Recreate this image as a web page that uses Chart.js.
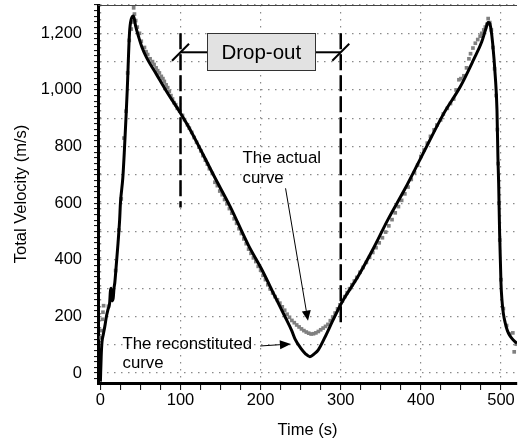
<!DOCTYPE html>
<html>
<head>
<meta charset="utf-8">
<script src="https://cdn.jsdelivr.net/npm/chart.js@4/dist/chart.umd.min.js"></script>
<style>
html,body{margin:0;padding:0;background:#fff;}
#wrap{width:521px;height:443px;}
</style>
</head>
<body>
<div id="wrap"><canvas id="c" width="521" height="443"></canvas></div>
<script>
// ---------- DATA ----------
// Reconstituted curve (black line): time (s) and velocity (m/s)
const reconT = [0,1,2,3.5,5.5,7.5,9.5,11.5,12.5,13.5,14.5,16,17,18,20,22,24,25,28,30,
  32,33.5,36.3,38.5,41.4,44,48,52,57.5,70,83,100,110,122,142,162,185,201.6,218,230.6,
  238.8,243,250,256,261.5,267,272,280,290,300.8,321.5,342,358.7,380,400,429,449.5,466,476,481,
  483.8,486,487.5,489.6,492.9,495,496.2,497.1,498.3,500,501.2,503,505.3,508,511.5,516,520];
const reconV = [-30,60,110,135,165,200,225,247,290,300,255,265,300,320,388,459,541,600,690,790,
  906,1000,1200,1250,1261,1225,1185,1150,1115,1055,993,918,870,806,695,588,450,365,270,198,
  150,120,88,68,58,68,82,125,185,247,341,447,541,650,760,919,1013,1108,1170,1215,
  1238,1235,1215,1165,1047,930,760,671,495,318,259,210,177,150,130,115,105];

// Actual curve (grey measured points): time (s) and velocity (m/s)
const actualT = [1,1.8,2.5,3.2,4,10,19,23,26,29.4,32,34,36,38.5,40,41.5,42.5,
  44,46,48.8,51,55,57,59,62,65,67,69.5,71.5,73.6,76,78,79.8,82,84,86,88,90,92,94,96,99,
  102.5,105,108.7,111,114,117,120,123,125.3,128,131,133.5,136,139.7,143,146,149,152,155,158,161,164,167,170,
  173,176,179,182,185,188,191,194,197,200,203,206,209,212,215,218,221,224,227,230,233,236,239,242,245,
  248,251,254,257,260,263,266,269,272,275,278,281,284,287,290,293,296,299,302,305,308,311,314,317,320,
  324,328,332,336,340,344,348,352,356,360,364,368,372,376,380,384,388,392,396,400,404,408,412,416.5,420,
  424.7,428,433,437,441,444,447.5,450,453.7,457,460,462,465,468,471,474,476,478.5,480.5,482.6,484,486,488,
  490,492,494,495.5,496.5,497.5,498.5,500,503,507,511,514.8,516.5,519];
const actualV = [125,150,190,215,238,236,362,505,615,830,925,1060,1175,1215,1240,1290,1268,
  1245,1222,1200,1172,1150,1135,1125,1110,1100,1090,1078,1068,1060,1048,1040,1030,1018,1008,995,980,968,955,948,935,925,
  910,895,877,865,850,832,815,798,785,768,752,738,722,705,674,662,643,630,613,598,581,565,545,529,
  510,493,474,457,438,423,407,394,377,363,345,330,312,297,283,270,259,247,234,222,208,197,186,178,170,
  163,156,150,145,141,138,139,142,147,153,159,165,172,185,198,212,227,241,255,270,284,298,312,325,338,
  356,373,391,409,426,443,460,478,498,520,542,566,588,610,633,657,684,708,734,765,788,812,836,859,876,
  894,915,935,952,968,1000,1036,1040,1050,1078,1110,1128,1148,1165,1178,1190,1200,1212,1222,1232,1252,1238,1212,
  1150,1075,980,860,740,600,470,330,228,168,138,142,75,102];

// Axis ranges and tick spacing
const xRange = [-3, 520];
const yRange = [-35, 1300];
const xMinorStep = 25, xLabelStep = 100;
const yMinorStep = 20, yGridStep = 100, yLabelStep = 200;

// Annotation anchors (data coordinates)
const dropOutTimes = [100, 300];
const dropOutTop = 1200;
const dropOutBottoms = [585, 170];
const bracketV = 1133;
const dropBox = {t1: 133.4, t2: 268.2, v1: 1068, v2: 1200, text: 'Drop-out'};
const actualNote = {t: 177.5, v: 741, lines: ['The actual', 'curve'], from: [231.1, 652.6], to: [259.1, 185]};
const reconNote = {t: 27.6, v: 84, lines: ['The reconstituted', 'curve'], from: [199.4, 95.7], to: [237.8, 102.8]};

// ---------- CHART ----------
const FONT = "'Liberation Sans', Arial, Helvetica, sans-serif";
const toPts = (ts, vs) => ts.map((t, i) => ({x: t, y: vs[i]}));

function arrow(ctx, x1, y1, x2, y2, len, half) {
  const a = Math.atan2(y2 - y1, x2 - x1);
  const bx = x2 - len * Math.cos(a), by = y2 - len * Math.sin(a);
  ctx.beginPath(); ctx.moveTo(x1, y1); ctx.lineTo(bx, by); ctx.stroke();
  ctx.beginPath();
  ctx.moveTo(x2, y2);
  ctx.lineTo(bx + half * Math.sin(a), by - half * Math.cos(a));
  ctx.lineTo(bx - half * Math.sin(a), by + half * Math.cos(a));
  ctx.closePath(); ctx.fill();
}

const frame = {
  id: 'frame',
  beforeDatasetsDraw(chart) {
    const {ctx, chartArea: ca} = chart;
    ctx.save();
    ctx.strokeStyle = '#444'; ctx.lineWidth = 1.2;
    ctx.beginPath(); ctx.moveTo(ca.left, ca.top + 0.5); ctx.lineTo(ca.right, ca.top + 0.5); ctx.stroke();
    ctx.restore();
  }
};

const annot = {
  id: 'annot',
  afterDatasetsDraw(chart) {
    const {ctx, scales: {x, y}} = chart;
    const X = v => x.getPixelForValue(v), Y = v => y.getPixelForValue(v);
    ctx.save();
    // dashed drop-out boundaries
    ctx.strokeStyle = '#000'; ctx.lineWidth = 2.5; ctx.setLineDash([16, 5]);
    dropOutTimes.forEach((t, i) => {
      ctx.beginPath(); ctx.moveTo(X(t), Y(dropOutTop)); ctx.lineTo(X(t), Y(dropOutBottoms[i])); ctx.stroke();
    });
    ctx.setLineDash([]);
    // bracket lines
    ctx.lineWidth = 2;
    const by = Y(bracketV);
    ctx.beginPath(); ctx.moveTo(X(dropOutTimes[0]), by); ctx.lineTo(X(dropBox.t1), by); ctx.stroke();
    ctx.beginPath(); ctx.moveTo(X(dropBox.t2), by); ctx.lineTo(X(dropOutTimes[1]), by); ctx.stroke();
    // slashes
    dropOutTimes.forEach(t => {
      const cx = X(t);
      ctx.beginPath(); ctx.moveTo(cx - 8.5, by + 8.5); ctx.lineTo(cx + 8.5, by - 8.5); ctx.stroke();
    });
    // box
    const bx1 = X(dropBox.t1), bx2 = X(dropBox.t2), by1 = Y(dropBox.v2), by2 = Y(dropBox.v1);
    ctx.fillStyle = '#e2e2e2';
    ctx.fillRect(bx1, by1, bx2 - bx1, by2 - by1);
    ctx.strokeStyle = '#333'; ctx.lineWidth = 1;
    ctx.strokeRect(Math.round(bx1) + 0.5, Math.round(by1) + 0.5, Math.round(bx2 - bx1), Math.round(by2 - by1));
    ctx.fillStyle = '#000';
    ctx.font = '20.5px ' + FONT;
    ctx.textAlign = 'center'; ctx.textBaseline = 'middle';
    ctx.fillText(dropBox.text, (bx1 + bx2) / 2, (by1 + by2) / 2 + 1);
    // notes
    ctx.font = '16.8px ' + FONT;
    ctx.textAlign = 'left'; ctx.textBaseline = 'alphabetic';
    actualNote.lines.forEach((s, i) => ctx.fillText(s, X(actualNote.t), Y(actualNote.v) + i * 20));
    reconNote.lines.forEach((s, i) => ctx.fillText(s, X(reconNote.t), Y(reconNote.v) + i * 19));
    ctx.strokeStyle = '#000'; ctx.lineWidth = 1;
    arrow(ctx, X(actualNote.from[0]), Y(actualNote.from[1]), X(actualNote.to[0]), Y(actualNote.to[1]), 10, 4.5);
    arrow(ctx, X(reconNote.from[0]), Y(reconNote.from[1]), X(reconNote.to[0]), Y(reconNote.to[1]), 11, 4.5);
    ctx.restore();
  }
};

new Chart(document.getElementById('c'), {
  type: 'scatter',
  data: {
    datasets: [
      {
        label: 'The reconstituted curve',
        data: toPts(reconT, reconV),
        showLine: true,
        borderColor: '#000',
        borderWidth: 3,
        pointRadius: 0,
        cubicInterpolationMode: 'monotone',
        order: 0
      },
      {
        label: 'The actual curve',
        data: toPts(actualT, actualV),
        showLine: false,
        pointStyle: 'rect',
        pointRadius: 2.6,
        backgroundColor: '#808080',
        borderWidth: 0,
        order: 1
      }
    ]
  },
  options: {
    responsive: false,
    animation: false,
    events: [],
    layout: {padding: {top: 5, right: 0, left: 0, bottom: 0}},
    plugins: {legend: {display: false}, tooltip: {enabled: false}},
    scales: {
      x: {
        type: 'linear',
        min: xRange[0], max: xRange[1],
        afterFit: s => { s.height = 60; s.paddingLeft = 0; s.paddingRight = 0; },
        ticks: {
          stepSize: xMinorStep, includeBounds: false, autoSkip: false, maxRotation: 0,
          padding: 1, color: '#000', font: {family: FONT, size: 16.5},
          callback: v => (v % xLabelStep === 0 ? String(v) : '')
        },
        grid: {
          color: c => (c.tick && c.tick.value % xLabelStep === 0 ? '#8a8a8a' : 'rgba(0,0,0,0)'),
          lineWidth: 1.2, tickColor: '#000', tickLength: 7, tickWidth: 1
        },
        border: {display: true, color: '#000', width: 3, dash: [1.5, 5.5]},
        title: {display: true, text: 'Time (s)', color: '#000', font: {family: FONT, size: 16.5}, padding: {top: 0, bottom: 3}}
      },
      y: {
        type: 'linear',
        min: yRange[0], max: yRange[1],
        afterFit: s => { s.width = 98; s.paddingTop = 0; s.paddingBottom = 0; },
        ticks: {
          stepSize: yMinorStep, includeBounds: false, autoSkip: false,
          padding: 12, color: '#000', font: {family: FONT, size: 16.5},
          callback: v => (v % yLabelStep === 0 ? v.toLocaleString('en-US') : '')
        },
        grid: {
          color: c => (c.tick && c.tick.value % yGridStep === 0 ? '#8a8a8a' : 'rgba(0,0,0,0)'),
          lineWidth: 1.2, tickColor: '#000', tickLength: 4, tickWidth: 1
        },
        border: {display: true, color: '#000', width: 3, dash: [1.5, 5.5]},
        title: {display: true, text: 'Total Velocity (m/s)', color: '#000', font: {family: FONT, size: 16.5}, padding: {top: 11.8, bottom: 0}}
      }
    }
  },
  plugins: [frame, annot]
});
</script>
</body>
</html>
